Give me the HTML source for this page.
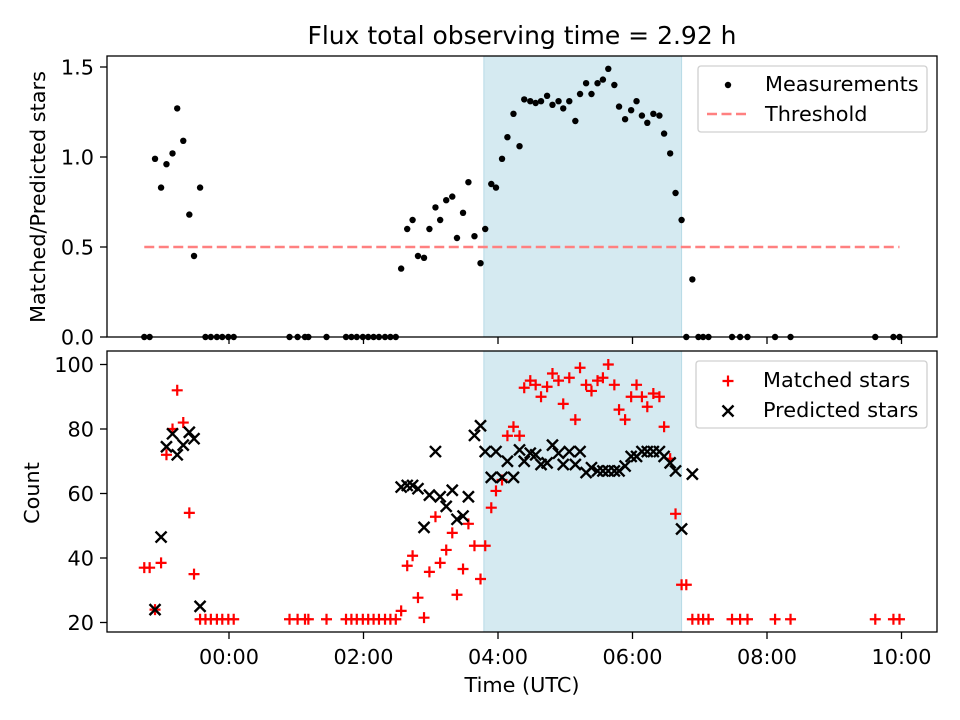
<!DOCTYPE html>
<html><head><meta charset="utf-8"><style>
html,body{margin:0;padding:0;background:#fff;}
svg{display:block;font-family:"DejaVu Sans","Liberation Sans",sans-serif;}
</style></head><body>
<svg id="fig" width="960" height="720" viewBox="0 0 960 720"></svg>
<script>
const times = [-1.26,-1.18,-1.10,-1.01,-0.93,-0.84,-0.77,-0.68,-0.59,-0.52,-0.43,-0.35,-0.27,-0.18,-0.10,-0.01,0.07,
0.90,1.02,1.13,1.18,1.45,1.74,1.82,1.90,1.99,2.07,2.15,2.23,2.32,2.40,2.48,
2.56,2.65,2.73,2.81,2.90,2.98,3.07,3.14,3.23,3.32,3.39,3.48,3.56,3.65,3.74,3.81,3.90,3.97,
4.06,4.14,4.23,4.32,4.39,4.48,4.56,4.64,4.73,4.81,4.90,4.97,5.06,5.15,5.22,5.31,5.39,5.48,5.56,5.64,5.73,5.80,5.89,5.98,6.06,6.14,6.22,6.31,6.40,6.47,6.56,6.64,6.73,
6.80,6.89,6.98,7.05,7.13,7.48,7.60,7.71,8.12,8.35,9.61,9.88,9.97];
const ratio = [0,0,0.99,0.83,0.96,1.02,1.27,1.09,0.68,0.45,0.83,0,0,0,0,0,0,
0,0,0,0,0,0,0,0,0,0,0,0,0,0,0,
0.38,0.60,0.65,0.45,0.44,0.60,0.72,0.65,0.76,0.78,0.55,0.69,0.86,0.56,0.41,0.60,0.85,0.83,
0.99,1.11,1.24,1.06,1.32,1.31,1.30,1.31,1.34,1.29,1.31,1.27,1.31,1.20,1.35,1.41,1.35,1.41,1.43,1.49,1.40,1.28,1.21,1.26,1.31,1.23,1.19,1.24,1.23,1.13,1.02,0.80,0.65,
0,0.32,0,0,0,0,0,0,0,0,0,0,0];
const matched = [37,37,24,38.5,72,80,92,82,54,35,21,21,21,21,21,21,21,
21,21,21,21,21,21,21,21,21,21,21,21,21,21,21,
23.6,37.6,40.7,27.7,21.5,35.7,52.8,38.5,42.5,47.8,28.6,36.6,50.6,43.8,33.5,43.8,55.6,60.8,
64.2,77.9,80.7,77.9,92.8,95,93.7,90,93.1,97.2,95,87.8,95.9,82.9,99,93.7,91.8,95,95.9,100,93.7,86,82.9,90,93.7,90,86.9,91,90,80.7,70.8,53.7,31.7,
31.7,21,21,21,21,21,21,21,21,21,21,21,21];
const predicted = [null,null,24,46.5,74.5,78.5,72,75,79,77,25,null,null,null,null,null,null,
null,null,null,null,null,null,null,null,null,null,null,null,null,null,null,
62,62.5,62.5,61.5,49.5,59.5,73,59,56,61,52,53,59,78,81,73,65,73,
65,70,65,73.5,70,72.5,72,69,69.5,75,72.5,69,73,69,73,66.5,68,67,67,67,67,67,68.5,71.5,71.5,73,73,73,73,71.5,69.5,67,49,
null,66,null,null,null,null,null,null,null,null,null,null,null];
const threshold = 0.5;
const spanStart = 3.79, spanEnd = 6.73;
const xTicks = [0,2,4,6,8,10];
const xTickLabels = ["00:00","02:00","04:00","06:00","08:00","10:00"];
const topTicks = [0,0.5,1.0,1.5];
const topTickLabels = ["0.0","0.5","1.0","1.5"];
const botTicks = [20,40,60,80,100];
const botTickLabels = ["20","40","60","80","100"];

const NS="http://www.w3.org/2000/svg";
const svg=document.getElementById('fig');
function mk(tag,attrs,parent){const e=document.createElementNS(NS,tag);for(const k in attrs)e.setAttribute(k,attrs[k]);(parent||svg).appendChild(e);return e;}
const L=107,R=937,T1=56,B1=337,T2=351,B2=632;
const FS=20.8;
function xs(h){return 229+h*67.25;}
function yTop(v){return 337-v*180;}
function yBot(v){return 622.5-(v-20)*3.225;}

let s1=mk('rect',{x:xs(spanStart),y:T1,width:xs(spanEnd)-xs(spanStart),height:B1-T1,fill:'#d5eaf1',stroke:'#b7dbe6','stroke-width':1});


let s2=mk('rect',{x:xs(spanStart),y:T2,width:xs(spanEnd)-xs(spanStart),height:B2-T2,fill:'#d5eaf1',stroke:'#b7dbe6','stroke-width':1});



let th=mk('line',{x1:xs(times[0]),x2:xs(times[times.length-1]),y1:yTop(threshold),y2:yTop(threshold),stroke:'#ff8080','stroke-width':2.5,'stroke-dasharray':'10,4.5'});



for(let i=0;i<times.length;i++){
  const c=mk('circle',{cx:xs(times[i]),cy:yTop(ratio[i]),r:3.2,fill:'#000'});
  
  
}
for(let i=0;i<times.length;i++){
  const x=xs(times[i]),y=yBot(matched[i]);
  const g=mk('path',{d:`M${x-5.5},${y}H${x+5.5}M${x},${y-5.5}V${y+5.5}`,stroke:'#ff0000','stroke-width':2.2,fill:'none'});
  
  
}
for(let i=0;i<times.length;i++){
  if(predicted[i]===null)continue;
  const x=xs(times[i]),y=yBot(predicted[i]);
  const g=mk('path',{d:`M${x-5.5},${y-5.5}L${x+5.5},${y+5.5}M${x-5.5},${y+5.5}L${x+5.5},${y-5.5}`,stroke:'#000','stroke-width':2.4,fill:'none'});
  
  
}

let f1=mk('rect',{x:L,y:T1,width:R-L,height:B1-T1,fill:'none',stroke:'#000','stroke-width':1.3});


let f2=mk('rect',{x:L,y:T2,width:R-L,height:B2-T2,fill:'none',stroke:'#000','stroke-width':1.3});



for(let i=0;i<xTicks.length;i++){
  const x=xs(xTicks[i]);
  mk('line',{x1:x,x2:x,y1:B1,y2:B1+7,stroke:'#000','stroke-width':1.3});
  mk('line',{x1:x,x2:x,y1:B2,y2:B2+7,stroke:'#000','stroke-width':1.3});
  const t=mk('text',{x:x,y:B2+32,'text-anchor':'middle','font-size':FS,fill:'#000'});
  t.textContent=xTickLabels[i];
  
  
}
for(let i=0;i<topTicks.length;i++){
  const y=yTop(topTicks[i]);
  mk('line',{x1:L-7,x2:L,y1:y,y2:y,stroke:'#000','stroke-width':1.3});
  const t=mk('text',{x:L-13,y:y+7.5,'text-anchor':'end','font-size':FS,fill:'#000'});
  t.textContent=topTickLabels[i];
  
  
}
for(let i=0;i<botTicks.length;i++){
  const y=yBot(botTicks[i]);
  mk('line',{x1:L-7,x2:L,y1:y,y2:y,stroke:'#000','stroke-width':1.3});
  const t=mk('text',{x:L-13,y:y+7.5,'text-anchor':'end','font-size':FS,fill:'#000'});
  t.textContent=botTickLabels[i];
  
  
}
</script>
<svg width="960" height="720" style="position:absolute;left:0;top:0;font-family:'DejaVu Sans','Liberation Sans',sans-serif;">
  <text x="522" y="44" text-anchor="middle" font-size="25">Flux total observing time = 2.92 h</text>
  <text x="522" y="692" text-anchor="middle" font-size="20.8">Time (UTC)</text>
  <text transform="translate(45,197) rotate(-90)" text-anchor="middle" font-size="20.8">Matched/Predicted stars</text>
  <text transform="translate(39,493) rotate(-90)" text-anchor="middle" font-size="20.8">Count</text>
  <g>
    <rect x="698" y="66" width="229" height="66" rx="3" fill="#fff" fill-opacity="0.8" stroke="#d0d0d0" stroke-width="1.3"/>
    <circle cx="728" cy="85" r="3.2" fill="#000"/>
    <text x="765" y="91" font-size="20.8">Measurements</text>
    <line x1="707" x2="749" y1="114" y2="114" stroke="#ff8080" stroke-width="2.5" stroke-dasharray="10,4.5"/>
    <text x="765" y="121" font-size="20.8">Threshold</text>
  </g>
  <g>
    <rect x="696" y="361" width="231" height="67" rx="3" fill="#fff" fill-opacity="0.8" stroke="#d0d0d0" stroke-width="1.3"/>
    <path d="M722.5,381H733.5M728,375.5V386.5" stroke="#f00" stroke-width="2.2"/>
    <text x="763" y="387" font-size="20.8">Matched stars</text>
    <path d="M722.5,405.5L733.5,416.5M722.5,416.5L733.5,405.5" stroke="#000" stroke-width="2.4"/>
    <text x="763" y="417" font-size="20.8">Predicted stars</text>
  </g>
</svg>
</body></html>
